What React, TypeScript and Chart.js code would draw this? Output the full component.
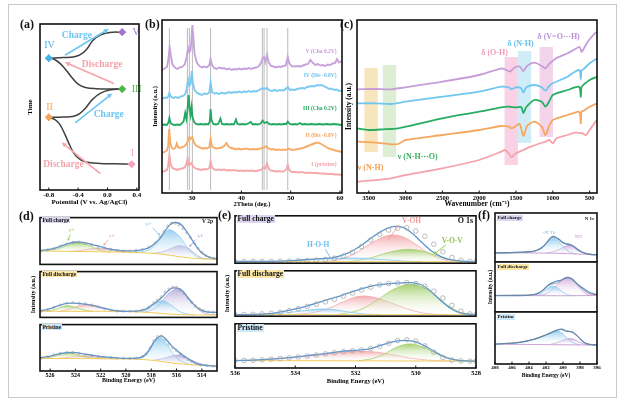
import React, { useEffect, useRef } from "react";
import { Chart, registerables } from "chart.js";
Chart.register(...registerables);

const SERIF = "'Liberation Serif', 'Times New Roman', serif";
Chart.defaults.font.family = SERIF;
Chart.defaults.color = "#000";

type P = number[][];

// ---------------- (a) potential vs time ----------------
const A_TICKS = [-0.8, -0.4, 0.0, 0.4];
const A_SEG1: P = [[0.33,1.55],[0.1,1.58],[-0.1,1.6],[-0.25,1.65],[-0.36,1.8],[-0.44,2.1],[-0.51,2.65],[-0.58,3.35],[-0.65,3.95],[-0.72,4.25],[-0.8,4.38]];
const A_SEG2: P = [[-0.8,4.38],[-0.6,4.4],[-0.46,4.44],[-0.38,4.6],[-0.3,4.93],[-0.21,5.43],[-0.1,5.82],[0.03,6.02],[0.2,6.08]];
const A_SEG3: P = [[0.2,6.08],[0.02,6.08],[-0.15,6.1],[-0.3,6.18],[-0.4,6.38],[-0.48,6.75],[-0.56,7.2],[-0.64,7.6],[-0.72,7.86],[-0.8,7.94]];
const A_SEG4: P = [[-0.8,7.94],[-0.6,7.98],[-0.45,8.03],[-0.37,8.15],[-0.28,8.5],[-0.2,9.0],[-0.1,9.33],[0.03,9.49],[0.2,9.51]];
const A_STATES: P = [[0.33,1.55],[-0.8,4.38],[0.2,6.08],[-0.8,7.94],[0.2,9.51]];
const A_STATE_NAMES = ["I", "II", "III", "IV", "V"];
const A_STATE_LABEL_POS: P = [[0.34,2.2],[-0.79,4.97],[0.33,6.08],[-0.79,8.72],[0.34,9.5]];
const A_STATE_COLORS = ["#f4a3c2", "#f5a25a", "#4cb848", "#45b1e6", "#a374c9"];
const A_ARROW_FROM: P = [[-0.097,0.99],[-0.44,4.04],[0.087,6.41],[-0.58,8.12]];
const A_ARROW_TO: P = [[-0.625,2.86],[0.065,5.82],[-0.58,7.69],[0.018,9.7]];
const A_ARROW_TEXT = ["Discharge", "Charge", "Discharge", "Charge"];
const A_TEXT_POS: P = [[-0.6,1.54],[0.018,4.57],[-0.073,7.53],[-0.418,9.33]];

// ---------------- (b) XRD ----------------
const B_TICKS = [30, 40, 50, 60];
const B_REF_LINES = [25.4, 29.05, 29.45, 30.06, 33.75, 44.25, 44.6, 45.2, 49.4];
const XRD_V: P = [[23.9,123],[24.4,124.5],[24.9,126],[25.2,134],[25.45,146],[25.7,137],[26,129],[26.5,125.5],[27,124],[27.5,125.5],[28,126],[28.5,128.5],[28.9,136],[29.2,145],[29.45,141],[29.7,143],[29.9,156],[30.06,168],[30.25,157],[30.5,139],[31,130],[31.5,127],[32,125.5],[32.5,126.5],[33,125.5],[33.5,128],[33.75,134],[34.05,128],[34.5,125],[35,124],[35.5,125.5],[36,124.5],[36.5,125],[37,123.5],[37.5,124.5],[38,123],[38.5,124],[39,123.5],[39.5,124.5],[40,123.5],[40.5,124.5],[41,124],[41.5,125],[42,124],[42.5,125],[43,125.5],[43.6,127],[44.05,131],[44.3,135],[44.6,136],[44.85,131],[45.2,138],[45.5,131],[46,127],[46.5,126.5],[47,125.5],[47.5,126.5],[48,126],[48.5,127],[49,127.5],[49.4,136],[49.7,130],[50.2,127],[50.8,126.5],[51.5,127],[52,126.5],[52.5,127.5],[53,128.5],[53.5,129],[54,133],[54.5,130],[55,128],[55.5,129],[56,127.5],[56.5,128],[57,127],[57.5,128.5],[58,128],[58.5,129.5],[59,130],[59.4,134],[59.8,130.5],[60.4,132]];
const XRD_IV: P = [[23.9,94],[24.4,95.5],[24.9,95],[25.2,97],[25.4,100],[25.7,96.5],[26.2,95],[26.7,96],[27.2,95],[27.7,96.5],[28.2,97],[28.6,99],[28.9,104],[29.2,113],[29.45,107],[29.7,109],[29.95,122],[30.15,110],[30.5,103],[31,100],[31.5,99],[32,98],[32.5,99.5],[33,99],[33.5,100.5],[33.75,111],[34.05,101],[34.5,99.5],[35,100],[35.5,99],[36,100.5],[36.5,99.5],[37,100],[37.5,101],[38,100],[38.5,101],[39,100.5],[39.5,101.5],[40,100.5],[40.5,101.5],[41,101],[41.5,102],[42,101],[42.5,102],[43,101.5],[43.5,102.5],[44.25,105],[44.6,104],[45.2,105],[45.7,102.5],[46.2,102],[46.7,103],[47.2,102],[47.7,103],[48.2,102.5],[48.7,103],[49.4,106],[49.8,103],[50.3,103.5],[50.8,103],[51.3,104],[51.8,104.5],[52.3,105],[52.8,104.5],[53.3,106],[53.8,106.5],[54.3,107],[54.8,106.5],[55.3,108],[55.8,107.5],[56.3,108],[56.8,106.5],[57.3,105.5],[57.8,104],[58.3,104.5],[58.8,103],[59.3,103.5],[59.8,102],[60.4,102.5]];
const XRD_III: P = [[23.9,68],[24.4,68.5],[24.9,68],[25.2,70.5],[25.4,75],[25.65,70],[26,68.5],[26.5,68],[27,68.5],[27.5,68],[27.9,69.5],[28.3,72],[28.6,80],[28.85,74],[29.05,82],[29.3,98],[29.5,85],[29.7,78],[29.9,86],[30.1,76],[30.4,71],[30.8,69],[31.3,68.5],[31.8,69],[32.3,68.5],[32.8,69],[33.3,68.5],[33.6,72],[33.75,84],[33.95,73],[34.3,69],[34.8,68.5],[35.3,69],[35.75,74.5],[36.05,69],[36.5,68.5],[37,69],[37.5,68.5],[38,69],[38.5,68.5],[38.9,73.5],[39.2,69],[39.7,68.5],[40.2,69],[40.7,68.5],[41.2,69],[41.9,71],[42.3,68.5],[42.8,69],[43.3,68.5],[43.9,69.5],[44.3,72.5],[44.7,70],[45.2,71],[45.6,69],[46.1,68.5],[46.6,69],[47.1,68.5],[47.6,69],[48.1,68.5],[48.6,69],[49.1,69],[49.4,71.5],[49.8,69],[50.3,68.5],[50.8,69],[51.3,68.5],[51.9,70],[52.3,68.5],[52.8,69],[53.5,68.5],[54.2,69],[55,68.5],[55.8,69],[56.5,68.5],[57.3,69],[58,68.5],[58.8,69],[59.6,68.5],[60.4,68]];
const XRD_II: P = [[23.9,40],[24.4,41],[24.9,42.5],[25.15,47],[25.35,64],[25.6,50],[25.9,45],[26.3,44],[26.6,45],[26.9,49.5],[27.2,45.5],[27.6,45],[28,46],[28.4,46.5],[28.8,48.5],[29.15,52],[29.45,56],[29.75,54],[30.05,56],[30.35,51],[30.7,48],[31.1,46.5],[31.6,45.5],[32.1,44.5],[32.6,45],[33.1,44.5],[33.5,46],[33.75,54],[34.05,46.5],[34.5,45],[35,44.5],[35.5,45],[36,45.5],[36.5,47],[36.95,50],[37.4,46.5],[37.9,45],[38.4,44.5],[38.9,43.5],[39.4,44.5],[39.9,43.5],[40.4,44],[40.9,44.5],[41.4,44],[41.9,43.5],[42.4,44],[42.9,43.5],[43.4,44],[43.9,44.5],[44.4,45],[45,46.5],[45.5,44.5],[46,43.5],[46.5,44],[47,43],[47.5,43.5],[48,43],[48.5,43.5],[49,43],[49.5,44.5],[50,43.5],[50.5,43],[51,43.5],[51.5,44],[52,44.5],[52.5,45],[53,46],[53.5,47],[54,48],[54.5,49],[55,50],[55.5,50.5],[56,49.5],[56.5,48],[57,46.5],[57.5,45],[58,44],[58.5,43.5],[59,42.5],[59.5,42],[60,41.5],[60.4,41]];
const XRD_I: P = [[23.9,21],[24.4,22],[24.9,23],[25.15,27],[25.4,38],[25.65,29],[26,25],[26.5,24],[27,23],[27.5,24],[28,24.5],[28.5,25.5],[28.85,29],[29.1,34.5],[29.35,28],[29.6,28.5],[29.9,30],[30.2,26.5],[30.6,25],[31,24],[31.5,23.5],[32,23],[32.5,24],[33,23.5],[33.5,25],[33.75,32],[34.05,25.5],[34.5,23.5],[35,23],[35.5,23.5],[36,23],[36.5,23.5],[37,22.5],[37.5,23],[38,22.5],[38.5,23],[39,22.5],[39.5,22],[40,22.5],[40.5,22],[41,22.5],[41.5,22],[42,22.5],[42.5,22],[43,22],[43.5,22.5],[44,23],[44.5,25.5],[44.8,24.5],[45.2,29.5],[45.6,24],[46,22.5],[46.5,22],[47,21.5],[47.5,22],[48,21.5],[48.5,21.5],[49.1,23.5],[49.4,28],[49.7,23],[50.2,21],[50.8,21],[51.5,20.5],[52.2,21],[53,20],[53.8,20.5],[54.5,20],[55.3,20],[56,19.5],[56.8,19.5],[57.5,19],[58.3,19],[59,18.5],[59.7,18.5],[60.4,18]];
const B_LABELS = ["V (Cha 0.2V)", "IV (Dis -0.8V)", "III (Cha 0.2V)", "II (Dis -0.8V)", "I (pristine)"];
const B_LABEL_Y = [141, 117, 84.7, 57, 28];

// ---------------- (c) FTIR ----------------
const C_TICKS = [3500, 3000, 2500, 2000, 1500, 1000, 500];
const IR_V: P = [[3660,103.7],[3400,104],[3200,103.7],[3000,105.7],[2500,111.3],[2000,118],[1700,124.7],[1650,123.7],[1580,121.5],[1520,125.5],[1450,126.5],[1400,122],[1350,127],[1250,130.3],[1150,127],[1100,124.7],[1050,129],[953,134.7],[800,139.7],[700,143.7],[636,146],[610,141],[590,143],[545,149],[500,153.7],[430,159.7],[400,161]];
const IR_IV: P = [[3660,89.7],[3400,89.7],[3200,89],[3000,91.3],[2500,96.3],[2000,101.3],[1700,106.3],[1600,105.7],[1560,103.7],[1500,105.7],[1430,104.7],[1400,100.3],[1360,105.7],[1250,108],[1150,105.7],[1100,102.3],[1050,107],[1000,109.7],[800,116.3],[700,121.3],[650,123],[630,121.5],[620,114],[610,122.5],[580,124],[500,129.7],[420,133.7],[400,134.5]];
const IR_III: P = [[3660,64.7],[3500,63],[3300,63.7],[3100,64.7],[3000,66.3],[2500,74.7],[2000,81.3],[1700,85.7],[1600,86.3],[1500,85.5],[1430,86],[1400,80],[1360,86],[1250,93],[1150,91.3],[1100,86.3],[1050,91.5],[1000,98],[800,103],[700,105.7],[650,106.3],[630,104],[620,96.3],[610,106],[580,108.5],[500,113],[420,115.7],[400,116]];
const IR_II: P = [[3660,51.3],[3400,50.3],[3200,48.7],[3100,49],[3000,53],[2500,58],[2000,63],[1700,67],[1600,66.3],[1560,64.7],[1500,67],[1450,69],[1400,57],[1350,67],[1250,71.3],[1150,66.3],[1100,58],[1050,67],[1000,73],[800,78],[700,80.3],[650,81.3],[630,79],[620,69.7],[610,81.5],[580,82.3],[500,86.3],[420,89],[400,89.5]];
const IR_I: P = [[3660,11.3],[3500,12.3],[3200,14.7],[3000,18],[2500,24.7],[2000,33],[1700,41.3],[1650,43],[1600,39.7],[1560,35.7],[1500,39.7],[1400,43],[1300,46.3],[1200,49],[1100,51.3],[1050,53],[1000,49.7],[950,54.7],[800,58],[700,60.3],[600,59.7],[550,58],[500,63],[420,71.3],[400,73]];
const C_BAND_NH = [3560, 3378, 41, 125];
const C_BAND_NHO = [3310, 3128, 36, 128];
const C_BAND_OH = [1655, 1474, 28, 136];
const C_BAND_NH2 = [1474, 1293, 50, 142];
const C_BAND_VOH = [1180, 998, 56, 146];

// ---------------- (d) V 2p ----------------
const D_TICKS = [526, 524, 522, 520, 518, 516, 514];
const D_TOP_BASE: P = [[526.8,28.7],[522,26.9],[518.9,25.1],[517.3,22.2],[515.7,16.2],[514.2,12],[512.8,10.8]];
const D_TOP_ENV: P = [[526.8,29.5],[526.2,31.5],[525.6,35],[525,40.5],[524.4,46],[523.9,47.9],[523.4,47],[522.8,43.5],[522.2,39.5],[521.6,35],[521,31.5],[520.4,29.5],[519.8,28.8],[519.2,29.2],[518.6,32],[518.1,37],[517.7,45],[517.3,56],[516.9,72],[516.5,85],[516.2,89.5],[515.9,89],[515.6,84],[515.3,74],[514.9,58],[514.5,41],[514.1,27],[513.7,19],[513.3,14.5],[512.8,12]];
const D_TOP_RAW: P = [[526.7,29],[526.2,31],[525.7,34],[525.2,39],[524.7,44],[524.2,47],[523.7,48],[523.2,45],[522.7,42],[522.2,38],[521.7,35],[521.2,32],[520.7,30],[520.2,29],[519.7,29],[519.2,30],[518.7,32],[518.2,37],[517.7,46],[517.3,58],[517,70],[516.7,82],[516.4,88],[516.1,88],[515.8,84],[515.5,77],[515.2,68],[514.9,57],[514.6,45],[514.3,34],[514,26],[513.7,19],[513.4,15],[513.1,13],[512.8,12]];
const D_TOP_V5_HIGH: P = [[526.5,28.6],[525.6,31.5],[525,37],[524.4,44],[523.9,46.5],[523.4,45],[522.8,39],[522.3,33],[521.8,28.5],[521.2,26.5]];
const D_TOP_V4_HIGH: P = [[524.5,27.8],[523.8,29],[523.2,31.5],[522.6,34],[522.2,34.5],[521.7,33],[521.1,30],[520.5,27.5],[519.8,25.7]];
const D_TOP_V5_LOW: P = [[519.5,25.5],[518.8,27],[518.2,31],[517.7,41],[517.3,54],[516.9,68],[516.6,74],[516.3,72],[516,66],[515.6,54],[515.2,38],[514.8,25],[514.3,15],[513.7,11.6]];
const D_TOP_V4_LOW: P = [[518,23.5],[517.3,25.5],[516.7,31],[516.2,37],[515.8,40],[515.4,38.5],[515,33],[514.6,24],[514.1,15],[513.5,11.3]];
const D_MID_BASE: P = [[526.8,13.3],[522,13.3],[518.9,11.9],[517.3,8.9],[515.7,5.9],[512.8,5.2]];
const D_MID_ENV: P = [[526.8,14.5],[526.2,17.5],[525.7,22],[525.2,27],[524.7,30.5],[524.2,31],[523.6,30],[523,28],[522.4,24.5],[521.8,20],[521.2,16.5],[520.6,14],[520,13.3],[519.4,13.5],[518.9,15],[518.4,18.5],[517.9,28],[517.5,36],[517.1,45],[516.7,57],[516.3,64.5],[515.9,64],[515.5,57],[515.1,43],[514.7,30],[514.3,20],[513.8,13],[513.3,11.2],[512.8,11]];
const D_MID_RAW: P = [[526.7,14],[526.2,17],[525.7,22],[525.2,27],[524.7,31],[524.2,32],[523.7,31],[523.2,30],[522.7,27],[522.2,23],[521.7,19],[521.2,16],[520.7,14],[520.2,13.5],[519.7,13.5],[519.2,14],[518.7,16],[518.2,22],[517.8,32],[517.5,38],[517.2,45],[516.9,55],[516.6,62],[516.3,66],[516,66],[515.7,60],[515.4,52],[515.1,42],[514.8,33],[514.5,25],[514.2,19],[513.9,15],[513.5,12],[513.1,11],[512.8,11]];
const D_MID_V5_HIGH: P = [[526.3,13.3],[525.6,17],[525.1,22.5],[524.7,25.5],[524.3,24.5],[523.8,20],[523.2,15.5],[522.6,13.4]];
const D_MID_V4_HIGH: P = [[525.3,13.3],[524.5,17.5],[523.8,24.5],[523.2,28.5],[522.6,27],[522,22],[521.3,16.5],[520.6,14],[519.9,13.2]];
const D_MID_V5_LOW: P = [[519.1,12],[518.4,16],[517.9,26],[517.5,34],[517.1,36.5],[516.7,32],[516.2,22],[515.7,12],[515.2,7.5],[514.6,5.8]];
const D_MID_V4_LOW: P = [[518.6,11.5],[517.9,17],[517.3,30],[516.8,47],[516.3,59],[515.9,62],[515.5,55],[515,40],[514.5,24],[514,12],[513.4,6.5],[512.9,5.3]];
const D_BOT_BASE: P = [[526.8,26.9],[519.4,25.7],[517.85,22.9],[516.3,17.1],[514.7,13.1],[512.8,11.4]];
const D_BOT_ENV: P = [[526.8,28.5],[526.2,31],[525.6,35],[525,38.5],[524.5,40],[524,39.5],[523.4,37],[522.8,34.5],[522.2,32],[521.5,30],[520.8,28.5],[520,27],[519.3,27.5],[518.8,30],[518.4,37],[518.1,48],[517.8,62],[517.5,72],[517.2,75.5],[516.9,70],[516.6,61],[516.3,52],[516,45],[515.7,38],[515.3,30],[514.9,23],[514.4,16],[513.9,12.5],[513.3,11],[512.8,10.5]];
const D_BOT_RAW: P = [[526.7,28],[526.2,31],[525.7,35],[525.2,38],[524.7,40],[524.2,40],[523.7,38],[523.2,35],[522.7,33],[522.2,31],[521.7,30],[521.2,29],[520.7,28],[520.2,27.5],[519.7,27],[519.2,28],[518.7,31],[518.4,37],[518.1,50],[517.8,65],[517.5,74],[517.2,75],[516.9,68],[516.6,58],[516.3,50],[516,44],[515.7,37],[515.4,31],[515.1,25],[514.8,20],[514.5,16],[514.1,13],[513.6,11.5],[513.1,10.5],[512.8,10.3]];
const D_BOT_V5_HIGH: P = [[526.6,26.9],[525.8,30.5],[525.2,35.5],[524.7,38.5],[524.2,37.5],[523.6,33],[523,29],[522.4,27],[521.8,26.5]];
const D_BOT_V4_HIGH: P = [[525.5,26.7],[524.5,29.5],[523.7,32.5],[523,32],[522.3,30],[521.5,27.5],[520.8,26.3]];
const D_BOT_V5_LOW: P = [[519.3,25.6],[518.6,30],[518.1,45],[517.8,62],[517.45,72],[517.1,69],[516.7,55],[516.3,38],[515.9,26],[515.3,17],[514.7,13.2]];
const D_BOT_V4_LOW: P = [[517.9,23],[517.1,26.5],[516.5,31.5],[516,34],[515.6,33],[515.1,27.5],[514.5,19.5],[513.9,14],[513.3,12]];

// ---------------- (e) O 1s ----------------
const E_TICKS = [536, 534, 532, 530, 528];
const E_TOP_BASE: P = [[536,3.3],[528,2.8]];
const E_TOP_ENV: P = [[536,3.6],[535.2,3.7],[534.5,4.5],[534,6],[533.5,8],[533,10],[532.6,14],[532.2,23],[531.8,38],[531.4,57],[531,72],[530.7,77.5],[530.4,75],[530.1,62],[529.8,44],[529.5,27],[529.2,15],[528.9,8],[528.5,4.5],[528,3]];
const E_TOP_RAW: P = [[536,3.6],[535.7,3.6],[535.4,3.6],[535.1,3.6],[534.8,3.6],[534.5,3.8],[534.2,4.2],[533.9,4.8],[533.6,5.5],[533.3,6.5],[533,8],[532.7,10.5],[532.4,15],[532.1,23],[531.8,35],[531.5,49],[531.2,61],[530.9,70],[530.6,74],[530.3,75],[530,68],[529.7,57],[529.4,40],[529.1,24],[528.8,12],[528.5,6],[528.2,3.8],[528,3.6]];
const E_TOP_HOH: P = [[534.6,3.2],[534,5.5],[533.4,8.5],[532.8,10.5],[532.2,11],[531.6,10],[531,7.5],[530.4,4.5],[529.8,3.1]];
const E_TOP_VOH: P = [[533,3.1],[532.4,10],[531.9,25],[531.4,45],[531,57],[530.75,59.4],[530.45,56],[530.1,44],[529.7,26],[529.3,12],[528.9,5],[528.5,3]];
const E_TOP_VOV: P = [[532.2,3.1],[531.5,11],[531,21],[530.5,28],[530.2,29],[529.8,26],[529.4,18],[529,9.5],[528.6,4.5],[528.2,2.9]];
const E_MID_BASE: P = [[536,3.5],[528,3]];
const E_MID_ENV: P = [[536,3.5],[535.4,4],[534.7,7],[534.14,14],[533.58,23],[533.01,35],[532.45,45.8],[531.89,58.5],[531.32,68.3],[530.76,72.5],[530.2,74],[529.86,70.4],[529.52,56.3],[529.18,35.2],[528.85,17.6],[528.51,7],[528,3.5]];
const E_MID_RAW: P = [[536,3.5],[535.7,3.6],[535.4,4],[535.1,5],[534.8,6.5],[534.5,8.5],[534.2,12],[533.9,16.5],[533.6,21.5],[533.3,26.5],[533,31.5],[532.7,37],[532.4,44],[532.1,51],[531.8,58],[531.5,64],[531.2,69],[530.9,72],[530.6,73],[530.3,74],[530,72],[529.7,66],[529.4,55],[529.1,40],[528.8,24],[528.5,11],[528.2,5],[528,4]];
const E_MID_HOH: P = [[535.2,3.5],[534.6,5.5],[534,10],[533.5,14],[533.1,16],[532.7,14.5],[532.2,9],[531.7,5],[531.2,3.3]];
const E_MID_VOH: P = [[534.2,3.4],[533.5,7],[532.9,17],[532.4,32],[531.95,43],[531.7,44.4],[531.3,40],[530.8,29],[530.3,16.5],[529.8,7.5],[529.3,3.8],[528.9,3.1]];
const E_MID_VOV: P = [[532.6,3.4],[531.9,13],[531.3,34],[530.9,53],[530.5,66],[530.15,70.4],[529.8,65],[529.4,48],[529,27],[528.6,11],[528.2,4.5],[528,3.1]];
const E_BOT_BASE: P = [[536,16.9],[528,15.5]];
const E_BOT_ENV: P = [[536,16.9],[535.2,18.5],[534.7,20.6],[534.1,24],[533.58,28],[533,32.5],[532.45,37.5],[531.9,40.5],[531.5,44],[531.21,50],[530.9,57],[530.6,61.5],[530.31,62.5],[530,59],[529.7,50],[529.4,38],[529.1,27],[528.8,20],[528.5,16.5],[528,15.6]];
const E_BOT_RAW: P = [[536,17],[535.7,17],[535.4,17.5],[535.1,18.5],[534.8,20],[534.5,21.5],[534.2,23],[533.9,25],[533.6,27],[533.3,29.5],[533,32],[532.7,34.5],[532.4,37],[532.1,39],[531.8,41],[531.5,44],[531.2,49],[530.9,56],[530.6,62],[530.3,64],[530,61],[529.7,50],[529.4,36],[529.1,24],[528.8,18],[528.5,16],[528.2,15.6],[528,15.5]];
const E_BOT_VOH: P = [[535.6,17],[534.8,20],[534,24.5],[533.2,30],[532.5,35],[532,37.5],[531.5,37],[531,33],[530.4,25],[529.8,19],[529.2,16.3],[528.8,15.8]];
const E_BOT_VOV: P = [[531.9,16.3],[531.4,22],[531,33],[530.7,45],[530.4,52.5],[530.2,54.4],[529.9,51],[529.6,42],[529.2,29],[528.8,20],[528.4,16.3],[528.1,15.6]];

// ---------------- (f) N 1s ----------------
const F_TICKS = [408, 406, 404, 402, 400, 398, 396];
const F_TOP_BASE: P = [[408,18.7],[401,18],[398,16],[396,15.3]];
const F_TOP_ENV: P = [[408,18.7],[406,19.3],[404.5,20.5],[403.1,24],[402.3,32],[401.8,42],[401.4,50],[401.1,52],[400.8,50],[400.5,46.7],[400.1,40.5],[399.7,37],[399.2,35.5],[398.8,32],[398.3,25.3],[397.9,21],[397.5,18.7],[396.7,15.3],[396,14.7]];
const F_TOP_RAW: P = [[408,18.3],[406,18.8],[404.5,20],[403.2,23],[402.4,30],[401.9,40],[401.5,48],[401.1,51],[400.7,48],[400.3,43],[399.9,39],[399.4,37],[398.9,34],[398.4,27],[398,22],[397.5,18],[396.8,15.7],[396,15]];
const F_TOP_NH_PLUS: P = [[404.5,18.6],[403.3,21.5],[402.5,28],[401.9,39],[401.4,46.5],[401.1,48],[400.7,45],[400.2,36],[399.7,26],[399.1,19.5],[398.4,16.8]];
const F_TOP_NH: P = [[402,18.2],[401.1,21],[400.3,27],[399.7,32],[399.2,34],[398.7,32],[398.1,25],[397.5,18.5],[396.8,15.5]];
const F_MID_BASE: P = [[408,33],[400,32.5],[396,33]];
const F_MID_ENV: P = [[408,32.9],[405.1,33],[403.1,36.2],[402.3,44.7],[401.72,53.9],[400.92,60.5],[400.12,64.5],[399.52,69],[398.92,65.8],[398.32,55.9],[397.52,46],[396.92,39.5],[396.32,36.2],[396,34.9]];
const F_MID_RAW: P = [[408,33.2],[405,33.5],[403.3,35.5],[402.4,43],[401.8,52],[401.3,56],[400.8,57.5],[400.3,62],[399.8,67.5],[399.4,69.5],[398.9,66],[398.4,57],[397.8,47],[397.3,40.5],[396.7,36],[396,34.5]];
const F_MID_NH_PLUS: P = [[403.5,32.8],[402.6,37],[401.9,46],[401.35,52],[400.8,50],[400.2,42],[399.6,35.5],[399,33],[398.4,32.5]];
const F_MID_NH: P = [[403,32.7],[402,36.5],[401.2,46],[400.5,58],[399.9,66],[399.4,68],[398.9,64],[398.3,53],[397.7,41.5],[397.1,35],[396.5,33]];
const F_BOT_BASE: P = [[408,38.2],[396,36.3]];
const F_BOT_ENV: P = [[408,38.2],[406.5,39.5],[405.12,41.4],[403.12,49],[401.92,56.7],[400.72,65],[400.12,66.9],[399.52,63],[398.92,61.8],[398.32,54.1],[397.52,41.4],[396.92,37.6],[396,36.3]];
const F_BOT_RAW: P = [[408,38],[406.5,39.8],[405,42],[403.5,47.5],[402.5,52.5],[401.5,59],[400.8,64],[400.3,66.5],[399.8,63.5],[399.3,62.5],[398.8,60],[398.3,53.5],[397.8,45],[397.3,40],[396.7,37.5],[396,36.5]];
const F_BOT_NH_PLUS: P = [[406.5,38],[405,41.5],[403.5,47.5],[402.2,55],[401.2,61],[400.6,63],[400,58],[399.3,46],[398.6,39],[398,37.3]];
const F_BOT_NH: P = [[401.5,37.6],[400.5,42],[399.8,47],[399.2,49],[398.7,47],[398.2,43],[397.6,38.5],[397,37]];

// ---------------- helpers ----------------
const pts = (a: P) => a.map(([x, y]) => ({ x, y }));

const grad = (color: string, a: P) => (ctx: any) => {
  const chart = ctx.chart;
  const ys = chart.scales && chart.scales.y;
  if (!chart.chartArea || !ys) return color;
  const vals = a.map((p) => p[1]);
  const top = ys.getPixelForValue(Math.max(...vals));
  const bot = ys.getPixelForValue(Math.min(...vals));
  const g = chart.ctx.createLinearGradient(0, top, 0, bot + 0.01);
  g.addColorStop(0, color);
  g.addColorStop(1, "rgba(255,255,255,0.1)");
  return g;
};

const lineDs = (a: P, color: string, w: number, extra: any = {}) => ({
  data: pts(a), borderColor: color, borderWidth: w, pointRadius: 0, fill: false, tension: 0, ...extra,
});

const COMP = {
  green: ["#9fcf6a", "rgba(150,201,88,0.85)"],
  pink: ["#f2a2a4", "rgba(242,155,160,0.8)"],
  blue: ["#8ccbee", "rgba(125,195,238,0.8)"],
  purple: ["#b3a6d6", "rgba(168,152,212,0.75)"],
  mauve: ["#c99bd3", "rgba(200,150,212,0.75)"],
};

function xps(base: P, comps: [P, string[]][], env: P, raw: P, rawMode: string, baseColor: string) {
  const ds: any[] = [];
  ds.push({ data: pts(base), borderColor: baseColor, borderWidth: 1, pointRadius: 0, fill: false, cubicInterpolationMode: "monotone", order: 2 });
  comps.forEach(([d, c]) =>
    ds.push({ data: pts(d), borderColor: c[0], borderWidth: 0.8, pointRadius: 0, fill: { target: 0 }, backgroundColor: grad(c[1], d), cubicInterpolationMode: "monotone", order: 5 })
  );
  ds.push({ data: pts(env), borderColor: "#5a94cf", borderWidth: 1.3, pointRadius: 0, fill: false, cubicInterpolationMode: "monotone", order: 1 });
  if (rawMode === "circle")
    ds.push({ data: pts(raw), showLine: false, pointRadius: 2.3, pointBorderWidth: 0.8, pointBorderColor: "#a9a9a9", pointBackgroundColor: "rgba(255,255,255,0)", order: 0 });
  else if (rawMode === "dot")
    ds.push({ data: pts(raw), showLine: false, pointRadius: 1.1, pointBorderWidth: 0.6, pointBorderColor: "#9c9c9c", pointBackgroundColor: "rgba(255,255,255,0)", order: 0 });
  else
    ds.push({ data: pts(raw), borderColor: "#7d7d7d", borderWidth: 0.7, pointRadius: 0, fill: false, cubicInterpolationMode: "monotone", order: 0 });
  return ds;
}

function drawArrow(ctx: any, x0: number, y0: number, x1: number, y1: number, color: string, w: number, head: number) {
  const ang = Math.atan2(y1 - y0, x1 - x0);
  const hx = x1 - head * Math.cos(ang), hy = y1 - head * Math.sin(ang);
  ctx.strokeStyle = color; ctx.fillStyle = color; ctx.lineWidth = w;
  ctx.beginPath(); ctx.moveTo(x0, y0); ctx.lineTo(head > 0 ? hx : x1, head > 0 ? hy : y1); ctx.stroke();
  if (head > 0) {
    const k = head * 0.5;
    ctx.beginPath(); ctx.moveTo(x1, y1);
    ctx.lineTo(hx + k * Math.sin(ang), hy - k * Math.cos(ang));
    ctx.lineTo(hx - k * Math.sin(ang), hy + k * Math.cos(ang));
    ctx.closePath(); ctx.fill();
  }
}

function annot(s: any) {
  return {
    id: "annot",
    beforeDatasetsDraw(chart: any) {
      const { ctx, chartArea: a, scales } = chart;
      const X = scales.x, Y = scales.y;
      const an = s.an || {};
      ctx.save();
      ctx.beginPath(); ctx.rect(a.left, a.top, a.right - a.left, a.bottom - a.top); ctx.clip();
      (an.rects || []).forEach((r: any) => {
        const x0 = X.getPixelForValue(r.v[0]), x1 = X.getPixelForValue(r.v[1]);
        const y0 = Y.getPixelForValue(r.v[2]), y1 = Y.getPixelForValue(r.v[3]);
        ctx.fillStyle = r.c;
        ctx.fillRect(Math.min(x0, x1), Math.min(y0, y1), Math.abs(x1 - x0), Math.abs(y1 - y0));
      });
      if (an.vlines) {
        ctx.strokeStyle = an.vlines.c; ctx.lineWidth = 0.9;
        an.vlines.x.forEach((v: number) => {
          const px = X.getPixelForValue(v);
          ctx.beginPath(); ctx.moveTo(px, Y.getPixelForValue(an.vlines.y0)); ctx.lineTo(px, Y.getPixelForValue(an.vlines.y1)); ctx.stroke();
        });
      }
      ctx.restore();
    },
    afterDatasetsDraw(chart: any) {
      const { ctx, chartArea: a, scales } = chart;
      const X = scales.x, Y = scales.y;
      const an = s.an || {};
      ctx.save();
      (an.arrows || []).forEach((r: any) => {
        drawArrow(ctx, X.getPixelForValue(r.a[0]), Y.getPixelForValue(r.a[1]), X.getPixelForValue(r.b[0]), Y.getPixelForValue(r.b[1]), r.c, r.w, r.h);
      });
      (an.texts || []).forEach((t: any) => {
        ctx.font = `${t.b === false ? "" : "bold "}${t.s}px ${SERIF}`;
        ctx.fillStyle = t.c; ctx.textAlign = t.al || "center"; ctx.textBaseline = "middle";
        ctx.fillText(t.t, X.getPixelForValue(t.x), Y.getPixelForValue(t.y));
      });
      ctx.strokeStyle = "#111"; ctx.lineWidth = 1.6;
      ctx.strokeRect(a.left, a.top, a.right - a.left, a.bottom - a.top);
      if (s.x.ticks && s.m.b > 0) {
        ctx.lineWidth = 1;
        s.x.ticks.forEach((v: number) => {
          const px = X.getPixelForValue(v);
          ctx.beginPath(); ctx.moveTo(px, a.bottom); ctx.lineTo(px, a.bottom - 2.5); ctx.stroke();
        });
      }
      ctx.restore();
    },
  };
}

function buildConfig(s: any) {
  const bold = "bold" as const;
  return {
    type: "line",
    data: { datasets: s.ds },
    options: {
      animation: false, responsive: false, maintainAspectRatio: false, events: [],
      layout: { padding: { top: s.m.t, right: s.m.r, left: 0, bottom: 0 } },
      plugins: { legend: { display: false }, tooltip: { enabled: false }, title: { display: false } },
      scales: {
        x: {
          type: "linear", min: s.x.min, max: s.x.max, reverse: !!s.x.rev,
          afterFit: (sc: any) => { sc.height = s.m.b; },
          afterBuildTicks: (sc: any) => { sc.ticks = (s.x.ticks || []).map((v: number) => ({ value: v })); },
          grid: { display: false, drawTicks: false }, border: { display: false },
          ticks: { display: !!s.x.ticks && s.m.b > 0, autoSkip: false, maxRotation: 0, padding: 1, color: "#000",
            font: { family: SERIF, size: s.x.size || 7, weight: bold },
            callback: (v: any) => (s.x.fmt ? s.x.fmt(v) : String(v)) },
          title: { display: !!s.x.title, text: s.x.title, padding: 0, color: "#000", font: { family: SERIF, size: s.x.tsize || 7, weight: bold } },
        },
        y: {
          type: "linear", min: s.y.min, max: s.y.max,
          afterFit: (sc: any) => { sc.width = s.m.l; },
          grid: { display: false, drawTicks: false }, border: { display: false },
          ticks: { display: false },
          title: { display: !!s.y.title, text: s.y.title, padding: 0, color: "#000", font: { family: SERIF, size: s.y.tsize || 7, weight: bold } },
        },
      },
    },
    plugins: [annot(s)],
  };
}

function ChartBox({ s }: { s: any }) {
  const ref = useRef<HTMLCanvasElement>(null);
  useEffect(() => {
    const chart = new Chart(ref.current as HTMLCanvasElement, buildConfig(s) as any);
    return () => chart.destroy();
  }, []);
  const [L, T, R, B] = s.box;
  const w = R - L + s.m.l + s.m.r, h = B - T + s.m.t + s.m.b;
  return <canvas ref={ref} width={w} height={h} style={{ position: "absolute", left: L - s.m.l, top: T - s.m.t, width: w, height: h }} />;
}

// ---------------- chart specs ----------------
const PINK_C = "#f4a3ab", ORANGE_C = "#f5a760", GREEN_C = "#27ad62", BLUE_C = "#72c5ef", PURPLE_C = "#c69dd8";
const CHG = "#6cc5f0", DIS = "#f4a3aa";

const specA = {
  box: [40, 21, 139, 190], m: { l: 14, t: 2, r: 8, b: 16 },
  x: { min: -0.92, max: 0.43, ticks: A_TICKS, fmt: (v: number) => v.toFixed(1), size: 7, title: "Potential (V vs. Ag/AgCl)", tsize: 7 },
  y: { min: 0, max: 10, title: "Time", tsize: 7 },
  ds: [
    { data: pts(A_STATES), showLine: false, pointStyle: "rectRot", pointRadius: 3.6, pointBackgroundColor: A_STATE_COLORS, pointBorderColor: A_STATE_COLORS, order: 0 },
    ...[A_SEG1, A_SEG2, A_SEG3, A_SEG4].map((sg) => lineDs(sg, "#404040", 1.5, { tension: 0.4, order: 1 })),
  ],
  an: {
    arrows: A_ARROW_FROM.map((f, i) => ({ a: f, b: A_ARROW_TO[i], c: i % 2 ? CHG : DIS, w: 1.6, h: 5 })),
    texts: [
      ...A_ARROW_TEXT.map((t, i) => ({ x: A_TEXT_POS[i][0], y: A_TEXT_POS[i][1], t, c: i % 2 ? CHG : DIS, s: 9.5 })),
      ...A_STATE_NAMES.map((t, i) => ({ x: A_STATE_LABEL_POS[i][0], y: A_STATE_LABEL_POS[i][1], t, c: A_STATE_COLORS[i], s: 10, b: false, al: i === 2 || i === 4 ? "left" : "center" })),
    ],
  },
};

const specB = {
  box: [162, 20, 342, 193], m: { l: 11, t: 2, r: 8, b: 15 },
  x: { min: 23.9, max: 60.4, ticks: B_TICKS, size: 7, title: "2Theta (deg.)", tsize: 6.5 },
  y: { min: 0, max: 173, title: "Intensity (a.u.)", tsize: 6.5 },
  ds: [
    lineDs(XRD_V, "#c8a3db", 1.9), lineDs(XRD_IV, "#7ccaf2", 1.9), lineDs(XRD_III, "#22a862", 1.8),
    lineDs(XRD_II, "#f6ad6a", 1.9), lineDs(XRD_I, "#f5a9ad", 1.9),
  ],
  an: {
    vlines: { x: B_REF_LINES, y0: 3, y1: 165, c: "#b3b3b3" },
    texts: B_LABELS.map((t, i) => ({ x: 59.3, y: B_LABEL_Y[i], t, c: ["#c39bd8", "#6cc2ee", "#22a862", "#f5a45e", "#f4a3ab"][i], s: 5.5, al: "right" })),
  },
};

const specC = {
  box: [357, 20, 597, 193], m: { l: 12, t: 2, r: 8, b: 16 },
  x: { min: 400, max: 3660, rev: true, ticks: C_TICKS, size: 6.5, title: "Wavenumber (cm⁻¹)", tsize: 7.5 },
  y: { min: 0, max: 173, title: "Intensity (a.u.)", tsize: 7.5 },
  ds: [
    lineDs(IR_V, PURPLE_C, 1.8, { tension: 0.25 }), lineDs(IR_IV, BLUE_C, 1.8, { tension: 0.25 }),
    lineDs(IR_III, GREEN_C, 1.8, { tension: 0.25 }), lineDs(IR_II, ORANGE_C, 1.8, { tension: 0.25 }),
    lineDs(IR_I, PINK_C, 1.8, { tension: 0.25 }),
  ],
  an: {
    rects: [
      { v: C_BAND_NH, c: "rgba(245,222,172,0.8)" }, { v: C_BAND_NHO, c: "rgba(215,235,205,0.85)" },
      { v: C_BAND_OH, c: "rgba(248,200,222,0.8)" }, { v: C_BAND_NH2, c: "rgba(200,234,246,0.85)" },
      { v: C_BAND_VOH, c: "rgba(240,205,232,0.85)" },
    ],
    texts: [
      { x: 3650, y: 25, t: "ν (N-H)", c: "#f39c4a", s: 8, al: "left" },
      { x: 3106, y: 36, t: "ν (N-H···O)", c: "#39b060", s: 8, al: "left" },
      { x: 1792, y: 140, t: "δ (O-H)", c: "#f29bbd", s: 8 },
      { x: 1438, y: 149, t: "δ (N-H)", c: "#62c0ea", s: 8 },
      { x: 921, y: 156, t: "δ (V=O···H)", c: "#b990d3", s: 8 },
    ],
  },
};

const dX = (bottom: boolean) => ({ min: 512.8, max: 526.8, rev: true, ticks: bottom ? D_TICKS : undefined, size: 6, title: bottom ? "Binding Energy (eV)" : undefined, tsize: 6 });
const eX = (bottom: boolean) => ({ min: 528, max: 536, rev: true, ticks: bottom ? E_TICKS : undefined, size: 6.5, title: bottom ? "Binding Energy (eV)" : undefined, tsize: 6.5 });
const fX = (bottom: boolean) => ({ min: 396, max: 408, rev: true, ticks: bottom ? F_TICKS : undefined, size: 5, title: bottom ? "Binding Energy (eV)" : undefined, tsize: 5.5 });
const Y100 = (title?: string, tsize?: number) => ({ min: 0, max: 100, title, tsize });
const BASE_Y = "#f2cd5c", BASE_F = "#cda3d6";

const specsD = [
  { box: [40, 215, 217, 269], m: { l: 10, t: 2, r: 8, b: 0 }, x: dX(false), y: Y100(),
    ds: xps(D_TOP_BASE, [[D_TOP_V5_HIGH, COMP.green], [D_TOP_V4_HIGH, COMP.pink], [D_TOP_V5_LOW, COMP.blue], [D_TOP_V4_LOW, COMP.purple]], D_TOP_ENV, D_TOP_RAW, "dot", BASE_Y),
    an: {
      arrows: [
        { a: [524.4, 64], b: [524.6, 50], c: "#8cc850", w: 0.8, h: 2.5 },
        { a: [521.4, 53], b: [521.8, 40], c: "#f29aa0", w: 0.8, h: 2.5 },
        { a: [517.9, 78], b: [517.3, 62], c: "#6cc0ee", w: 0.8, h: 2.5 },
        { a: [514.5, 53], b: [515, 37], c: "#a89ad2", w: 0.8, h: 2.5 },
      ],
      texts: [
        { x: 524.3, y: 71, t: "V⁵⁺", c: "#8cc850", s: 4.5, b: false },
        { x: 521.1, y: 59, t: "V⁴⁺", c: "#f29aa0", s: 4.5, b: false },
        { x: 518.2, y: 84, t: "V⁵⁺", c: "#6cc0ee", s: 4.5, b: false },
        { x: 514.1, y: 59, t: "V⁴⁺", c: "#a89ad2", s: 4.5, b: false },
      ],
    } },
  { box: [40, 269, 217, 322], m: { l: 10, t: 2, r: 8, b: 0 }, x: dX(false), y: Y100("Intensity (a.u.)", 6),
    ds: xps(D_MID_BASE, [[D_MID_V5_HIGH, COMP.green], [D_MID_V4_HIGH, COMP.pink], [D_MID_V5_LOW, COMP.blue], [D_MID_V4_LOW, COMP.purple]], D_MID_ENV, D_MID_RAW, "dot", BASE_Y) },
  { box: [40, 322, 217, 371], m: { l: 10, t: 2, r: 8, b: 13 }, x: dX(true), y: Y100(),
    ds: xps(D_BOT_BASE, [[D_BOT_V5_HIGH, COMP.green], [D_BOT_V4_HIGH, COMP.pink], [D_BOT_V5_LOW, COMP.blue], [D_BOT_V4_LOW, COMP.purple]], D_BOT_ENV, D_BOT_RAW, "dot", BASE_Y) },
];

const specsE = [
  { box: [235, 213, 476, 268], m: { l: 11, t: 2, r: 8, b: 0 }, x: eX(false), y: Y100(),
    ds: xps(E_TOP_BASE, [[E_TOP_HOH, COMP.blue], [E_TOP_VOV, COMP.green], [E_TOP_VOH, COMP.pink]], E_TOP_ENV, E_TOP_RAW, "circle", BASE_Y),
    an: {
      arrows: [
        { a: [533.0, 30], b: [532.85, 13], c: "#6cc0ee", w: 0.9, h: 0 },
        { a: [530.55, 81], b: [530.93, 48], c: "#f29a9a", w: 0.9, h: 0 },
        { a: [529.0, 39], b: [529.41, 18], c: "#93c64a", w: 0.9, h: 3.5 },
      ],
      texts: [
        { x: 533.24, y: 38, t: "H-O-H", c: "#6cc0ee", s: 7.5 },
        { x: 530.14, y: 89, t: "V-OH", c: "#f29a9a", s: 7.5 },
        { x: 528.79, y: 47, t: "V-O-V", c: "#93c64a", s: 7.5 },
      ],
    } },
  { box: [235, 268, 476, 321], m: { l: 11, t: 2, r: 8, b: 0 }, x: eX(false), y: Y100("Intensity (a.u.)", 6),
    ds: xps(E_MID_BASE, [[E_MID_HOH, COMP.blue], [E_MID_VOV, COMP.green], [E_MID_VOH, COMP.pink]], E_MID_ENV, E_MID_RAW, "circle", BASE_Y) },
  { box: [235, 321, 476, 368], m: { l: 11, t: 2, r: 8, b: 17 }, x: eX(true), y: Y100(),
    ds: xps(E_BOT_BASE, [[E_BOT_VOV, COMP.green], [E_BOT_VOH, COMP.pink]], E_BOT_ENV, E_BOT_RAW, "circle", BASE_Y) },
];

const specsF = [
  { box: [495, 213, 597, 262], m: { l: 8, t: 2, r: 8, b: 0 }, x: fX(false), y: Y100(),
    ds: xps(F_TOP_BASE, [[F_TOP_NH_PLUS, COMP.blue], [F_TOP_NH, COMP.mauve]], F_TOP_ENV, F_TOP_RAW, "line", BASE_F),
    an: { texts: [
      { x: 401.6, y: 60, t: "-N⁺H-", c: "#6cbfe9", s: 5, b: false },
      { x: 398.2, y: 52, t: "NH", c: "#c890d0", s: 5, b: false },
    ] } },
  { box: [495, 262, 597, 312], m: { l: 8, t: 2, r: 8, b: 0 }, x: fX(false), y: Y100("Intensity (a.u.)", 5.5),
    ds: xps(F_MID_BASE, [[F_MID_NH_PLUS, COMP.blue], [F_MID_NH, COMP.mauve]], F_MID_ENV, F_MID_RAW, "line", BASE_F) },
  { box: [495, 312, 597, 364], m: { l: 8, t: 2, r: 8, b: 15 }, x: fX(true), y: Y100(),
    ds: xps(F_BOT_BASE, [[F_BOT_NH_PLUS, COMP.blue], [F_BOT_NH, COMP.mauve]], F_BOT_ENV, F_BOT_RAW, "line", BASE_F) },
];

const ALL_SPECS = [specA, specB, specC, ...specsD, ...specsE, ...specsF];

// ---------------- text overlays ----------------
const BG = { charge: "#dcd5ef", discharge: "#fbe6a6", pristine: "#cde8f8" };
const T = ({ l, r, t, s, text, bg, c = "#111", w = 700 }: any) => (
  <div style={{ position: "absolute", left: l, right: r, top: t, fontFamily: SERIF, fontSize: s, fontWeight: w, color: c, background: bg, lineHeight: 1.1, padding: bg ? "0 1px" : 0, whiteSpace: "nowrap" }}>{text}</div>
);

export default function App() {
  return (
    <div style={{ position: "absolute", left: 0, top: 0, width: 625, height: 404, background: "#fff", overflow: "hidden" }}>
      <div style={{ position: "absolute", left: 8, top: 4, width: 607, height: 392, border: "1px solid #c9c9c9" }} />
      {ALL_SPECS.map((s, i) => <ChartBox key={i} s={s} />)}
      <T l={20} t={18} s={12} text="(a)" />
      <T l={145} t={18} s={12} text="(b)" />
      <T l={340} t={18} s={12} text="(c)" />
      <T l={19} t={210} s={12} text="(d)" />
      <T l={218} t={209} s={12} text="(e)" />
      <T l={478} t={209} s={12} text="(f)" />
      <T l={41.5} t={216.5} s={5.5} text="Full charge" bg={BG.charge} />
      <T l={41.5} t={271} s={5.5} text="Full discharge" bg={BG.discharge} />
      <T l={41.5} t={324} s={5.5} text="Pristine" bg={BG.pristine} />
      <T r={625 - 213} t={217.5} s={5.5} text="V 2p" />
      <T l={236.5} t={215} s={7.5} text="Full charge" bg={BG.charge} />
      <T l={236.5} t={270} s={7.5} text="Full discharge" bg={BG.discharge} />
      <T l={236.5} t={323.5} s={7.5} text="Pristine" bg={BG.pristine} />
      <T r={625 - 473} t={216.5} s={8} text="O 1s" />
      <T l={496.5} t={215} s={5} text="Full charge" bg={BG.charge} />
      <T l={496.5} t={264} s={5} text="Full discharge" bg={BG.discharge} />
      <T l={496.5} t={314} s={5} text="Pristine" bg={BG.pristine} />
      <T r={625 - 594} t={216} s={5} text="N 1s" />
    </div>
  );
}
